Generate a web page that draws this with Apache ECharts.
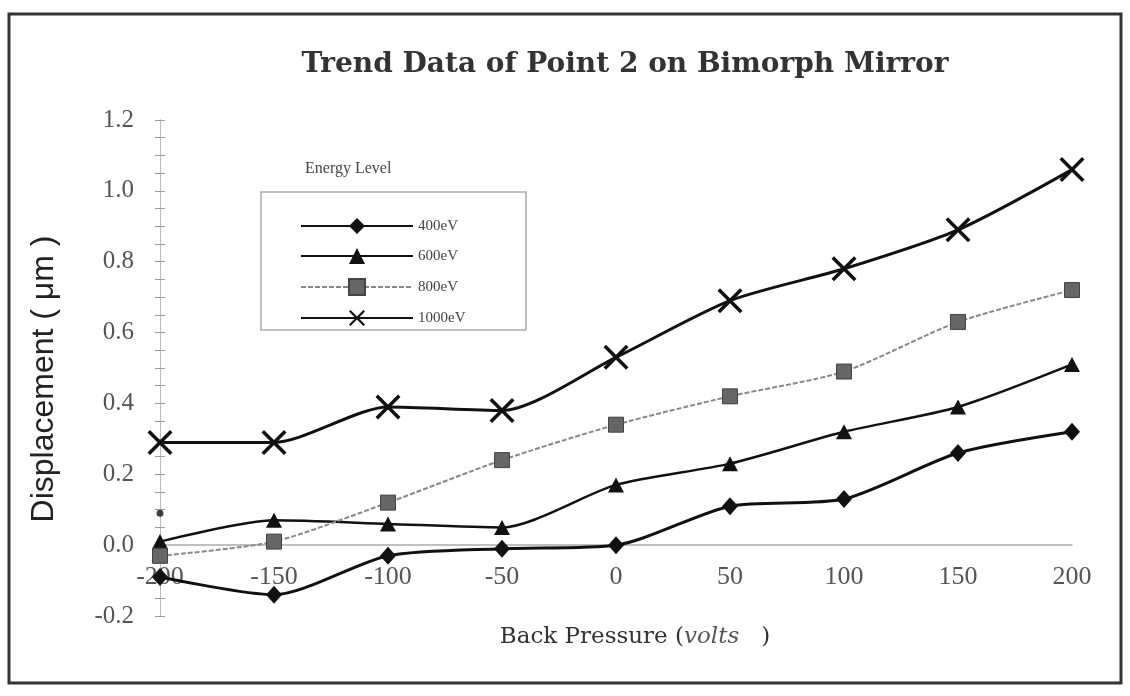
<!DOCTYPE html>
<html>
<head>
<meta charset="utf-8">
<script src="https://cdn.jsdelivr.net/npm/echarts@6/dist/echarts.min.js"></script>
<style>html,body{margin:0;padding:0;background:#fff}#c{width:1130px;height:696px}</style>
</head>
<body>
<div id="c"></div>
<script>
var pressure = [-200, -150, -100, -50, 0, 50, 100, 150, 200];
var ev400  = [-0.09, -0.14, -0.03, -0.01, 0.00, 0.11, 0.13, 0.26, 0.32];
var ev600  = [0.01, 0.07, 0.06, 0.05, 0.17, 0.23, 0.32, 0.39, 0.51];
var ev800  = [-0.03, 0.01, 0.12, 0.24, 0.34, 0.42, 0.49, 0.63, 0.72];
var ev1000 = [0.29, 0.29, 0.39, 0.38, 0.53, 0.69, 0.78, 0.89, 1.06];
var strayPoint = [[-200, 0.09]];
var seriesNames = ['400eV', '600eV', '800eV', '1000eV'];
var titleText = 'Trend Data of Point 2 on Bimorph Mirror';
var legendTitle = 'Energy Level';

function pairs(ys) { return pressure.map(function (x, i) { return [x, ys[i]]; }); }

var crossPath = 'path://M0,1 L1,0 L5,4 L9,0 L10,1 L6,5 L10,9 L9,10 L5,6 L1,10 L0,9 L4,5 Z';
var serif = 'Liberation Serif';

// grid geometry: y from -0.2 to 1.2 over 496px; x axis drawn at y = 0
var gridTop = 120, gridBottom = 80, gridH = 696 - gridTop - gridBottom;
var yMin = -0.2, yMax = 1.2;
var zeroOffset = -(0 - yMin) / (yMax - yMin) * gridH;

var chart = echarts.init(document.getElementById('c'));
var yAxisBase = {
  type: 'value', min: yMin, max: yMax, interval: 0.2, position: 'left',
  splitLine: { show: false },
  minorTick: { show: true, splitNumber: 4, length: 5, lineStyle: { color: '#999' } },
  axisLine: { onZero: false, show: true, lineStyle: { color: '#bbb', width: 1 } }
};
chart.setOption({
  backgroundColor: '#fff',
  animation: false,
  title: {
    text: titleText, left: 620, top: 46, textAlign: 'center',
    textStyle: { fontFamily: 'DejaVu Serif', fontSize: 28, fontWeight: 'bold', color: '#333' }
  },
  grid: { left: 160, right: 58, top: gridTop, bottom: gridBottom, outerBoundsMode: 'none', containLabel: false },
  xAxis: {
    type: 'value', min: -200, max: 200, interval: 50, position: 'bottom', offset: zeroOffset,
    splitLine: { show: false },
    axisTick: { show: false },
    axisLine: { onZero: false, lineStyle: { color: '#aaa', width: 1.5 } },
    axisLabel: { margin: 19, fontFamily: serif, fontSize: 26, color: '#555' },
    name: '{a|Back Pressure (}{b|volts}{a|   )}',
    nameLocation: 'middle', nameGap: 80,
    nameTextStyle: {
      padding: [0, 0, 0, 38],
      rich: {
        a: { fontFamily: 'DejaVu Serif', fontSize: 23, color: '#333' },
        b: { fontFamily: 'DejaVu Serif', fontSize: 23, fontStyle: 'italic', color: '#555' }
      }
    }
  },
  yAxis: [
    Object.assign({}, yAxisBase, {
      axisTick: { show: true, length: 5, lineStyle: { color: '#999' } },
      axisLabel: {
        margin: 26, fontFamily: serif, fontSize: 25, color: '#555', padding: [0, 0, 12, 0],
        formatter: function (v) { return v.toFixed(1); }
      },
      name: 'Displacement ( μm )', nameLocation: 'middle', nameRotate: 90, nameGap: 100,
      nameTextStyle: { fontFamily: 'Liberation Sans', fontSize: 32, color: '#222', padding: [0, 22, 0, 0] }
    }),
    Object.assign({}, yAxisBase, {
      axisTick: { show: true, inside: true, length: 5, lineStyle: { color: '#999' } },
      minorTick: { show: true, splitNumber: 4, length: 5, lineStyle: { color: '#999' } },
      axisLabel: { show: false }
    })
  ],
  legend: {
    data: seriesNames, orient: 'vertical', left: 295, top: 213,
    itemWidth: 112, itemHeight: 20, itemGap: 14,
    textStyle: { fontFamily: serif, fontSize: 15, color: '#444' }
  },
  graphic: [
    { type: 'rect', shape: { x: 9, y: 14, width: 1112, height: 669 },
      style: { fill: 'none', stroke: '#333', lineWidth: 3 }, silent: true },
    { type: 'rect', shape: { x: 261, y: 192, width: 265, height: 138 },
      style: { fill: 'none', stroke: '#aaa', lineWidth: 1.5 }, silent: true },
    { type: 'text', left: 305, top: 161,
      style: { text: legendTitle, font: '16px "Liberation Serif"', fill: '#444' } }
  ],
  series: [
    { name: '400eV', type: 'line', data: pairs(ev400), smooth: 0.25,
      symbol: 'diamond', symbolSize: [16, 18],
      lineStyle: { color: '#111', width: 3 }, itemStyle: { color: '#111' } },
    { name: '600eV', type: 'line', data: pairs(ev600), smooth: 0.25,
      symbol: 'triangle', symbolSize: [16, 15],
      lineStyle: { color: '#111', width: 2.5 }, itemStyle: { color: '#111' } },
    { name: '800eV', type: 'line', data: pairs(ev800), smooth: 0.25,
      symbol: 'rect', symbolSize: 15,
      lineStyle: { color: '#888', width: 2, type: [5, 2] },
      itemStyle: { color: '#666', borderColor: '#444', borderWidth: 1 } },
    { name: '1000eV', type: 'line', data: pairs(ev1000), smooth: 0.25,
      symbol: crossPath, symbolSize: 25,
      lineStyle: { color: '#111', width: 3 }, itemStyle: { color: '#111' } },
    { name: 'stray', type: 'scatter', data: strayPoint, symbol: 'circle', symbolSize: 7,
      itemStyle: { color: '#111' } }
  ]
});
</script>
</body>
</html>
